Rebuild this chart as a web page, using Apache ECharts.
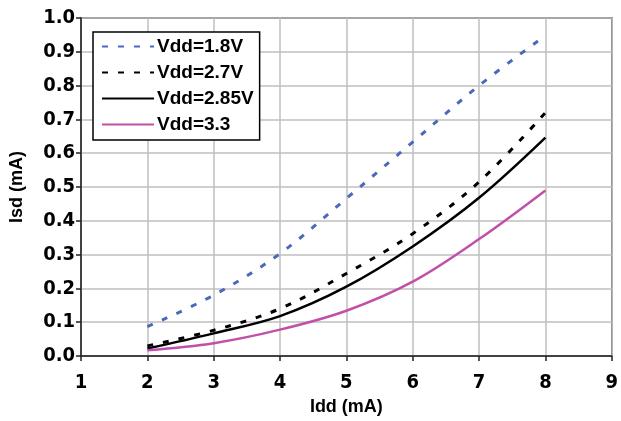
<!DOCTYPE html>
<html><head><meta charset="utf-8">
<script src="https://cdn.jsdelivr.net/npm/echarts@6/dist/echarts.min.js"></script>
<style>html,body{margin:0;padding:0;background:#fff}#c{width:621px;height:421px}</style>
</head><body><div id="c"></div>
<script>
var xVals = [2, 3, 4, 5, 6, 7, 8];
var seriesNames = ['Vdd=1.8V', 'Vdd=2.7V', 'Vdd=2.85V', 'Vdd=3.3'];
var v18 = [0.087, 0.18, 0.303, 0.466, 0.633, 0.80, 0.948];
var v27 = [0.030, 0.076, 0.140, 0.244, 0.362, 0.515, 0.72];
var v285 = [0.022, 0.067, 0.118, 0.205, 0.324, 0.468, 0.646];
var v33 = [0.017, 0.038, 0.078, 0.134, 0.220, 0.346, 0.490];
var yTicks = ['0.0','0.1','0.2','0.3','0.4','0.5','0.6','0.7','0.8','0.9','1.0'];
var xTicks = ['1','2','3','4','5','6','7','8','9'];

var FONT = '"DejaVu Sans Condensed", "DejaVu Sans", sans-serif';
var LFONT = '"Liberation Sans", Arial, sans-serif';
function pts(arr){ return xVals.map(function(x,i){ return [x, arr[i]]; }); }
var chart = echarts.init(document.getElementById('c'));
var colors = ['#4a69b8', '#000000', '#000000', '#c050a8'];
var types = [[6,10], [6,10], 'solid', 'solid'];
var widths = [3, 3, 2.5, 2.5];
var datas = [v18, v27, v285, v33];
chart.setOption({
  animation: false,
  textStyle: {fontFamily: FONT},
  grid: {left: 79, right: 9, top: 18, bottom: 63, show: true, borderColor: '#222', borderWidth: 1.5},
  legend: {
    orient: 'vertical', left: 93, top: 32,
    backgroundColor: '#fff', borderColor: '#000', borderWidth: 1.5,
    padding: [5, 6, 6, 8], itemGap: 7, itemWidth: 52, itemHeight: 14,
    itemStyle: {color: 'rgba(0,0,0,0)', borderWidth: 0, opacity: 0},
    textStyle: {fontFamily: LFONT, fontSize: 19, fontWeight: 'bold', color: '#000', padding: [0,0,0,-2]},
    data: seriesNames
  },
  xAxis: {
    type: 'value', min: 1, max: 9, interval: 1,
    name: 'Idd (mA)', nameLocation: 'middle', nameGap: 42,
    nameTextStyle: {fontFamily: LFONT, fontSize: 18, fontWeight: 'bold', color: '#000'},
    axisLine: {lineStyle: {color: '#222', width: 1.5}},
    axisTick: {show: true, length: 5, inside: false, lineStyle: {color: '#222', width: 1.5}},
    axisLabel: {fontFamily: FONT, fontSize: 20, fontWeight: 'bold', color: '#000', margin: 17,
      formatter: function(v){ return xTicks[Math.round(v)-1]; }},
    splitLine: {lineStyle: {color: '#bfbfbf', width: 1.5}}
  },
  yAxis: {
    type: 'value', min: 0, max: 1, interval: 0.1,
    name: 'Isd (mA)', nameLocation: 'middle', nameGap: 55, nameRotate: 90,
    nameTextStyle: {fontFamily: LFONT, fontSize: 18, fontWeight: 'bold', color: '#000'},
    axisLine: {show: true, lineStyle: {color: '#222', width: 1.5}},
    axisTick: {show: true, length: 5, lineStyle: {color: '#222', width: 1.5}},
    axisLabel: {fontFamily: FONT, fontSize: 20, fontWeight: 'bold', color: '#000', margin: 6,
      formatter: function(v){ return yTicks[Math.round(v*10)]; }},
    splitLine: {lineStyle: {color: '#bfbfbf', width: 1.5}}
  },
  series: seriesNames.map(function(n, i){
    return {
      name: n, type: 'line', data: pts(datas[i]), symbol: 'none', smooth: 0.35,
      color: colors[i],
      lineStyle: {color: colors[i], width: widths[i], type: types[i]}
    };
  })
});
</script></body></html>
